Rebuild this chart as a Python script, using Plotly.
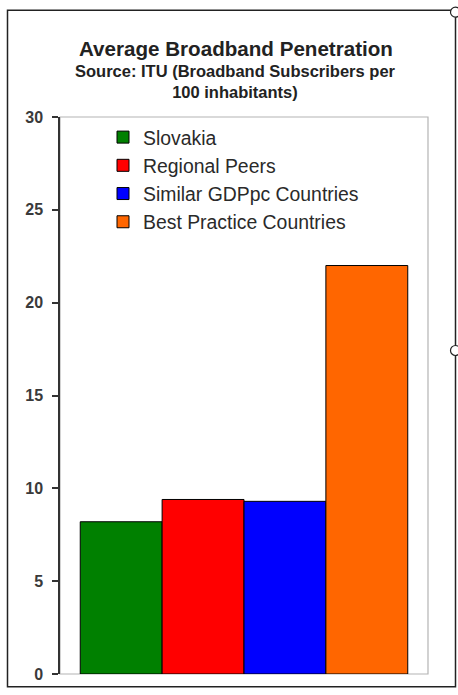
import plotly.graph_objects as go

series_names = ["Slovakia", "Regional Peers", "Similar GDPpc Countries", "Best Practice Countries"]
series_values = [8.2, 9.4, 9.3, 22.0]
series_colors = ["#008000", "#FF0000", "#0000FF", "#FF6600"]
category = ["Average Broadband Penetration"]
y_ticks = [0, 5, 10, 15, 20, 25, 30]

W, H = 458, 695
L, R, T, B = 60, 30, 117, 15
PW = W - L - R
PH = H - T - B

def px_x(x):
    return (x - L) / PW

def px_y(y):
    return (H - B - y) / PH

fig = go.Figure()
for name, val, col in zip(series_names, series_values, series_colors):
    fig.add_trace(go.Bar(
        x=category, y=[val], name=name, legendgroup=name,
        marker=dict(color=col, line=dict(color="#000000", width=1)),
    ))

font_family = "Liberation Sans, Arial, sans-serif"

fig.update_layout(
    width=W, height=H,
    margin=dict(l=L, r=R, t=T, b=B),
    paper_bgcolor="white", plot_bgcolor="white",
    barmode="group", bargap=0.11, bargroupgap=0,
    showlegend=True,
    legend=dict(
        x=px_x(103), y=px_y(118), xanchor="left", yanchor="top",
        bgcolor="rgba(0,0,0,0)", borderwidth=0,
        font=dict(family=font_family, size=19.4, color="#2a2a2a"),
        tracegroupgap=2, traceorder="normal",
    ),
    xaxis=dict(showticklabels=False, showline=False, showgrid=False, zeroline=False,
               ticks="", range=[-0.5, 0.5]),
    yaxis=dict(range=[0, 30], tickvals=y_ticks, ticktext=[str(v) for v in y_ticks],
               showgrid=False, zeroline=False, showline=True, linecolor="#333333", linewidth=1.5,
               ticks="outside", ticklen=6, tickcolor="#333333", tickwidth=1.5,
               ticklabelstandoff=6,
               tickfont=dict(family=font_family, size=16, color="#3a3a3a", weight="bold")),
    font=dict(family=font_family),
)

# plot-area border (light gray)
fig.add_shape(type="rect", xref="paper", yref="paper", x0=0, y0=0, x1=1, y1=1,
              line=dict(color="#b4b4b4", width=1.2), layer="below")
# outer chart border
fig.add_shape(type="rect", xref="paper", yref="paper",
              x0=px_x(7.5), x1=px_x(455.5), y0=px_y(693), y1=px_y(9),
              line=dict(color="#222222", width=1.5), layer="above")
# selection handles
for hy in [11, 353]:
    fig.add_shape(type="circle", xref="paper", yref="paper",
                  xsizemode="pixel", ysizemode="pixel",
                  xanchor=px_x(455.5), yanchor=px_y(hy),
                  x0=-5, x1=5, y0=-5, y1=5,
                  fillcolor="white", line=dict(color="#222222", width=1.2))

fig.add_annotation(text="<b>Average Broadband Penetration</b>", xref="paper", yref="paper",
                   x=px_x(236), y=px_y(48), xanchor="center", yanchor="middle", showarrow=False,
                   font=dict(family=font_family, size=20.6, color="#222222"))
fig.add_annotation(text="<b>Source: ITU (Broadband Subscribers per<br>100 inhabitants)</b>",
                   xref="paper", yref="paper",
                   x=px_x(235.5), y=px_y(81), xanchor="center", yanchor="middle", showarrow=False,
                   font=dict(family=font_family, size=16.5, color="#222222"))

fig.write_html("out.html")
